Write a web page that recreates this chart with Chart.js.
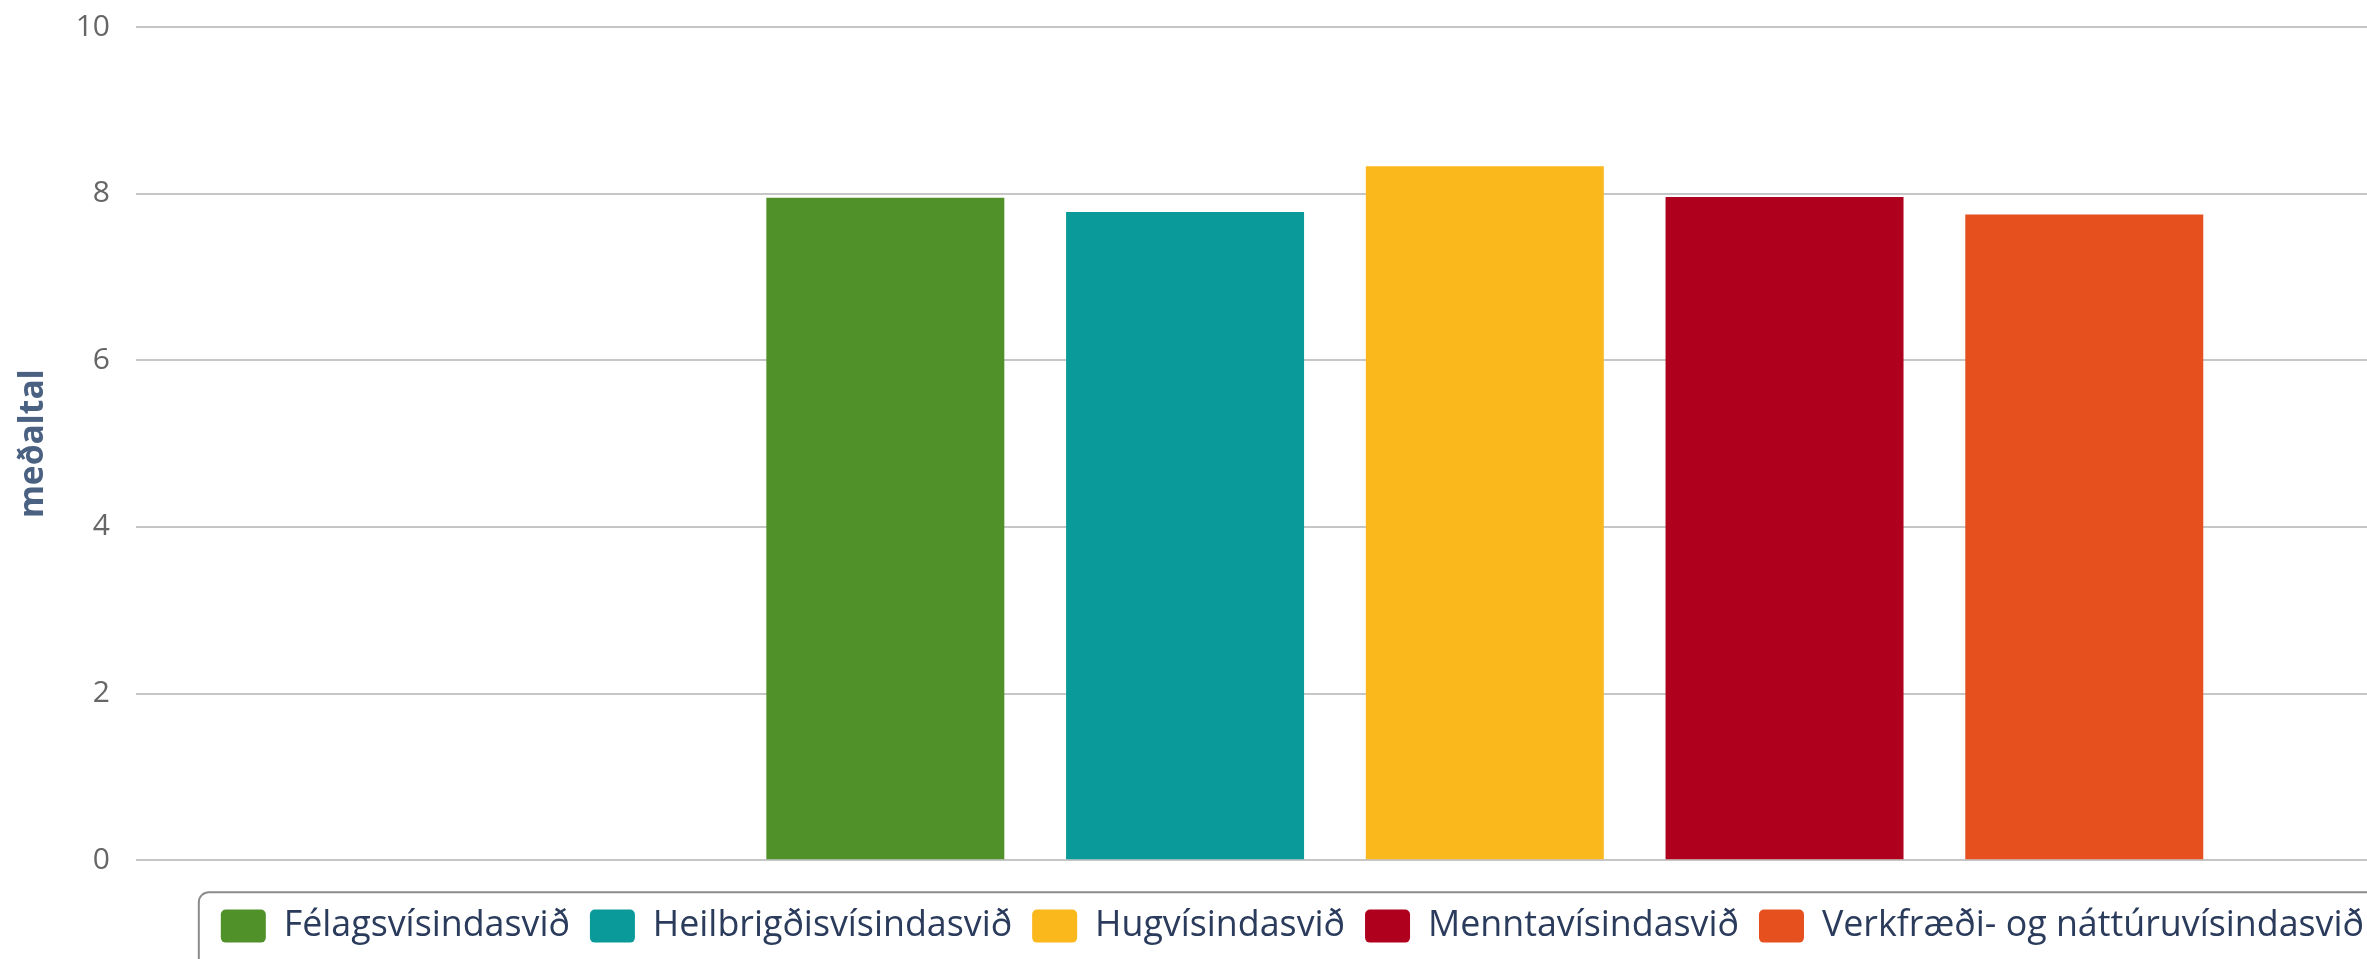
<!DOCTYPE html>
<html><head><meta charset="utf-8">
<script src="https://cdn.jsdelivr.net/npm/chart.js@4/dist/chart.umd.min.js"></script>
<style>
html,body{margin:0;padding:0;background:#fff;overflow:hidden}
#wrap{position:relative;width:2367px;height:959px;overflow:hidden;background:#fff}
canvas{position:absolute;left:0;top:0}
</style></head><body>
<div id="wrap"><canvas id="c" width="2384" height="990"></canvas></div>
<script>
const categories = ['Félagsvísindasvið', 'Heilbrigðisvísindasvið', 'Hugvísindasvið', 'Menntavísindasvið', 'Verkfræði- og náttúruvísindasvið'];
const values = [7.95, 7.78, 8.33, 7.96, 7.75];
const colors = ['#50912a', '#0a9a9a', '#fbb81c', '#af001e', '#e5501e'];
const yTicks = [0, 2, 4, 6, 8, 10];
const yTitle = 'meðaltal';

const legendFrame = {
  id: 'legendFrame',
  afterDraw(chart) {
    const lg = chart.legend;
    const hb = lg.legendHitBoxes;
    if (!hb || !hb.length) return;
    const ctx = chart.ctx;
    const x0 = hb[0].left - 22, y0 = hb[0].top - 16;
    ctx.save();
    ctx.strokeStyle = '#8c8c8c';
    ctx.lineWidth = 2;
    ctx.beginPath();
    ctx.roundRect(x0, y0, lg.right + 40 - x0, lg.bottom + 40 - y0, 10);
    ctx.stroke();
    ctx.restore();
  }
};

const chart = new Chart(document.getElementById('c'), {
  type: 'bar',
  data: {
    datasets: categories.map((name, i) => ({
      label: name,
      data: [{x: i, y: values[i]}],
      backgroundColor: colors[i],
      borderWidth: 0,
      grouped: false,
      categoryPercentage: 1,
      barPercentage: 0.794
    }))
  },
  options: {
    responsive: false,
    animation: false,
    devicePixelRatio: 1,
    layout: {padding: {left: 0, top: 27, right: 0, bottom: 36}},
    scales: {
      x: {
        type: 'linear',
        min: -2.5,
        max: 5,
        offset: false,
        display: true,
        grid: {display: false, offset: false},
        border: {display: false},
        ticks: {display: false},
        afterBuildTicks: (s) => { s.ticks = categories.map((c, i) => ({value: i})); },
        afterFit: (s) => { s.height = 28; }
      },
      y: {
        min: 0,
        max: 10,
        afterBuildTicks: (s) => { s.ticks = yTicks.map(v => ({value: v})); },
        grid: {color: '#c6c6c6', lineWidth: 2, drawTicks: false},
        border: {display: false},
        ticks: {color: '#666666', padding: 26, font: {family: 'Open Sans', size: 30}},
        title: {display: true, text: yTitle, color: '#4a6182', padding: {top: 13, bottom: 0},
                font: {family: 'Open Sans', size: 33.5, weight: 'bold'}},
        afterFit: (s) => { s.width = 136; s.paddingTop = 0; s.paddingBottom = 0; }
      }
    },
    plugins: {
      tooltip: {enabled: false},
      legend: {
        position: 'bottom',
        align: 'end',
        labels: {
          boxWidth: 45, boxHeight: 33, padding: 20,
          useBorderRadius: true, borderRadius: 5,
          color: '#2a3b5c',
          font: {family: 'Open Sans', size: 35.8}
        }
      }
    }
  },
  plugins: [legendFrame]
});
</script>
</body></html>
